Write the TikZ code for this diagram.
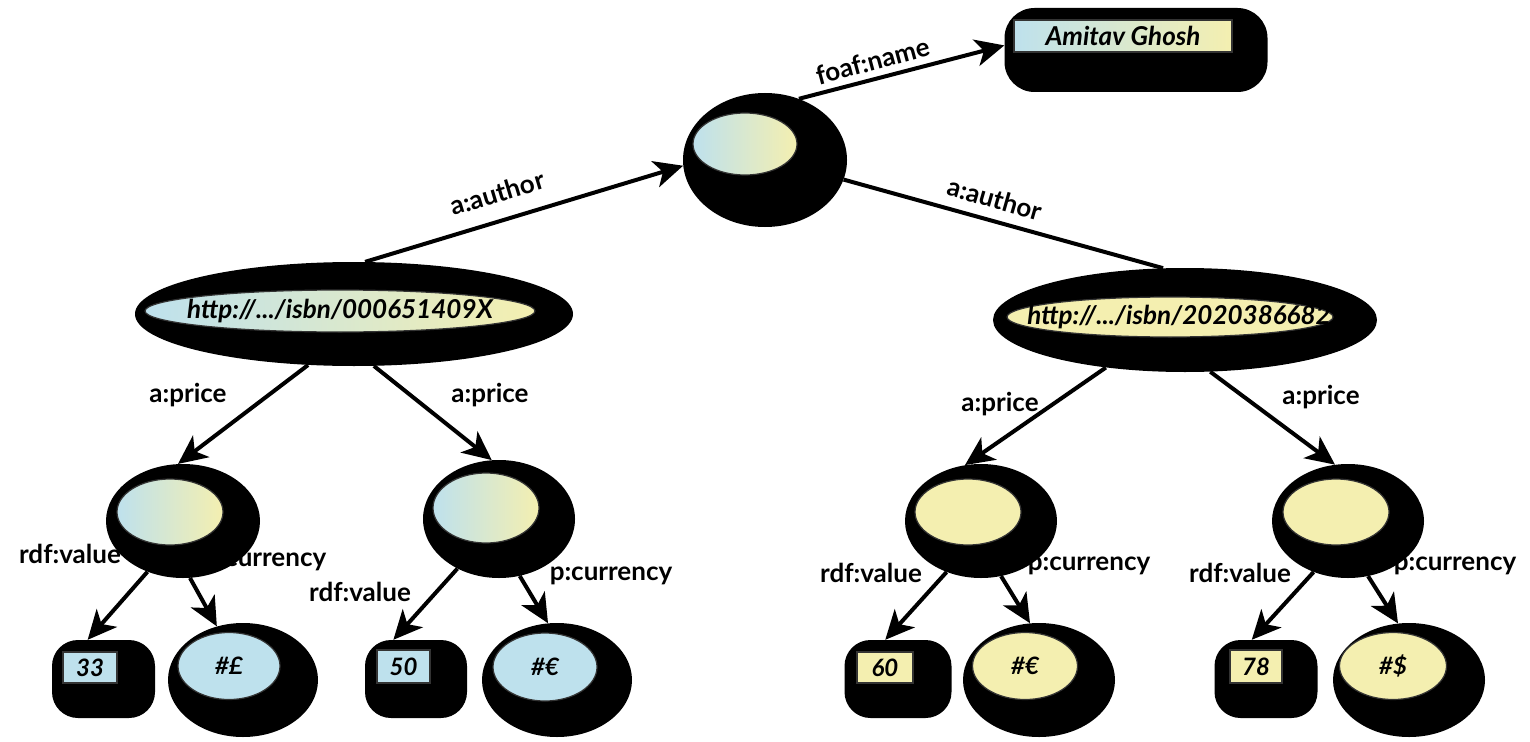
\documentclass[tikz,border=0pt]{standalone}
\usepackage{fontspec}
\setmainfont{Lato}
\usetikzlibrary{shapes.geometric,arrows.meta}
\definecolor{lblue}{RGB}{190,225,237}
\definecolor{lyel}{RGB}{244,239,176}
\tikzset{
  blob/.style={ellipse, fill=black, draw=none, inner sep=0pt},
  bbox/.style={rectangle, rounded corners=26pt, fill=black, draw=none, inner sep=0pt},
  inell/.style={ellipse, draw=black!80, line width=1.2pt, inner sep=0pt},
  inrect/.style={rectangle, draw=black!80, line width=1.2pt, inner sep=0pt},
  ntext/.style={inner sep=0pt, font=\fontsize{26}{28}\selectfont\bfseries\itshape},
  stext/.style={inner sep=0pt, font=\fontsize{24}{26}\selectfont\bfseries\itshape},
  grad/.style={left color=lblue, right color=lyel, shading angle=90},
  lab/.style={font=\fontsize{26}{28}\selectfont\bfseries, inner sep=0pt, anchor=base},
  arr/.style={line width=4pt, -{Stealth[length=29pt,width=27pt,inset=8pt]}},
  plain/.style={line width=4pt}
}
\begin{document}
\begin{tikzpicture}[x=1pt,y=-1pt]
\useasboundingbox[fill=white] (0,0) rectangle (1530,741);
% edge labels (drawn first; blobs may cover parts)
\node[lab, rotate=15] (lfoaf) at (875,70) {foaf:name};
\node[lab, rotate=16.7] (lauthL) at (500,202) {a:author};
\node[lab, rotate=-16] (lauthR) at (992,208) {a:author};
\node[lab] (lp1) at (188,402) {a:price};
\node[lab] (lp2) at (490,402) {a:price};
\node[lab] (lp3) at (1000,411) {a:price};
\node[lab] (lp4) at (1321,404) {a:price};
\node[lab] (lv1) at (70,563) {rdf:value};
\node[lab] (lv2) at (360,601) {rdf:value};
\node[lab] (lv3) at (871,582) {rdf:value};
\node[lab] (lv4) at (1240,582) {rdf:value};
\node[lab] (lc1) at (265,566) {p:currency};
\node[lab] (lc2) at (611,580) {p:currency};
\node[lab] (lc3) at (1089,570) {p:currency};
\node[lab] (lc4) at (1455,570) {p:currency};
% black blobs
\node[blob, minimum width=164pt, minimum height=134pt] (T) at (765,160) {};
\node[bbox, minimum width=263pt, minimum height=84pt, rounded corners=30pt] (A) at (1136,50) {};
\node[blob, minimum width=438pt, minimum height=104pt] (BL) at (354,314) {};
\node[blob, minimum width=384pt, minimum height=104pt] (BR) at (1185,320) {};
\node[blob, minimum width=154pt, minimum height=114pt] (L1) at (183,521) {};
\node[blob, minimum width=152pt, minimum height=118pt] (L2) at (499,519) {};
\node[blob, minimum width=152pt, minimum height=114pt] (R1) at (981,521) {};
\node[blob, minimum width=152pt, minimum height=114pt] (R2) at (1348,521) {};
\node[blob, minimum width=150pt, minimum height=114pt] (C1) at (243,680) {};
\node[blob, minimum width=150pt, minimum height=114pt] (C2) at (557,680) {};
\node[blob, minimum width=152pt, minimum height=114pt] (C3) at (1039,680) {};
\node[blob, minimum width=152pt, minimum height=114pt] (C4) at (1409,680) {};
\node[bbox, minimum width=103pt, minimum height=78pt] (V1) at (103.5,679) {};
\node[bbox, minimum width=102pt, minimum height=78pt] (V2) at (416,679) {};
\node[bbox, minimum width=107pt, minimum height=78pt] (V3) at (898,679) {};
\node[bbox, minimum width=103pt, minimum height=78pt] (V4) at (1266,679) {};
% inner coloured shapes
\node[inell, grad, minimum width=104pt, minimum height=62pt] (Ti) at (745,144) {};
\node[inrect, grad, minimum width=218pt, minimum height=32pt] (Ai) at (1123,36) {};
\node[inell, grad, minimum width=390pt, minimum height=42pt] (BLi) at (340,311) {};
\node[inell, fill=lyel, minimum width=326pt, minimum height=40pt] (BRi) at (1170,317) {};
\node[inell, grad, minimum width=106pt, minimum height=66pt] (L1i) at (170,512) {};
\node[inell, grad, minimum width=106pt, minimum height=70pt] (L2i) at (486,508) {};
\node[inell, fill=lyel, minimum width=106pt, minimum height=66pt] (R1i) at (968,512) {};
\node[inell, fill=lyel, minimum width=106pt, minimum height=66pt] (R2i) at (1336,512) {};
\node[inell, fill=lblue, minimum width=102pt, minimum height=67pt] (C1i) at (229,666) {};
\node[inell, fill=lblue, minimum width=104pt, minimum height=68pt] (C2i) at (545,667) {};
\node[inell, fill=lyel, minimum width=105pt, minimum height=67pt] (C3i) at (1025,666) {};
\node[inell, fill=lyel, minimum width=107pt, minimum height=67pt] (C4i) at (1393,666) {};
\node[inrect, fill=lblue, minimum width=54pt, minimum height=31pt] (V1i) at (90,667.5) {};
\node[inrect, fill=lblue, minimum width=53pt, minimum height=33pt] (V2i) at (403.5,666.5) {};
\node[inrect, fill=lyel, minimum width=56pt, minimum height=31pt] (V3i) at (885,667.5) {};
\node[inrect, fill=lyel, minimum width=52pt, minimum height=33pt] (V4i) at (1256,666.5) {};
% texts in the nodes
\node[ntext] (tA) at (Ai) {Amitav Ghosh};
\node[ntext] (tBL) at (BLi) {http://.../isbn/000651409X};
\node[ntext] (tBR) at ([xshift=9pt]BRi.center) {http://.../isbn/2020386682};
\node[stext] (tC1) at (C1i) {\#£};
\node[stext] (tC2) at (C2i) {\#€};
\node[stext] (tC3) at (C3i) {\#€};
\node[stext] (tC4) at (C4i) {\#\$};
\node[stext] (tV1) at (V1i) {33};
\node[stext] (tV2) at (V2i) {50};
\node[stext] (tV3) at (V3i) {60};
\node[stext] (tV4) at (V4i) {78};
% connectors
\draw[arr] (T.61) -- (A.178);
\draw[arr] (BL.78) -- (T.184);
\draw[plain] (BR.113) -- (T.346);
\draw[arr] (BL.228) -- (L1.95);
\draw[arr] (BL.291) -- (L2.97);
\draw[arr] (BR.211) -- (R1.106);
\draw[arr] (BR.296) -- (R2.103);
\draw[arr] (L1.235) -- (V1.112);
\draw[arr] (L1.277) -- (C1.116);
\draw[arr] (L2.230) -- (V2.120);
\draw[arr] (L2.290) -- (C2.99);
\draw[arr] (R1.236) -- (V3.108);
\draw[arr] (R1.290) -- (C3.99);
\draw[arr] (R2.236) -- (V4.110);
\draw[arr] (R2.290) -- (C4.101);
\end{tikzpicture}
\end{document}
